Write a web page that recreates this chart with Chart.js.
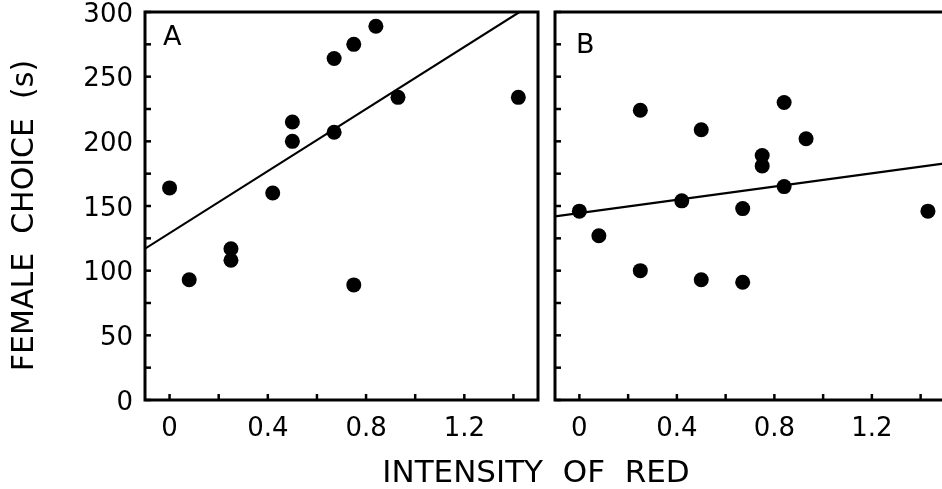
<!DOCTYPE html>
<html><head><meta charset="utf-8">
<script src="https://cdn.jsdelivr.net/npm/chart.js@4.4.1/dist/chart.umd.min.js"></script>
<style>
html,body{margin:0;padding:0;background:#fff;overflow:hidden;width:942px;height:489px;}
#wrap{position:relative;width:942px;height:489px;overflow:hidden;background:#fff;}
#cA{position:absolute;left:0;top:0;}
#cB{position:absolute;left:545px;top:0;}
#xtitle{position:absolute;left:536px;top:456px;transform:translateX(-50%);font-family:"DejaVu Sans",sans-serif;font-size:31px;line-height:31px;white-space:pre;color:#000;}
</style></head>
<body><div id="wrap">
<canvas id="cA" width="548" height="489"></canvas>
<canvas id="cB" width="410" height="489"></canvas>
<div id="xtitle">INTENSITY  OF  RED</div>
</div>
<script>
// ---- data ----
const xTickValues = [0, 0.2, 0.4, 0.6, 0.8, 1.0, 1.2, 1.4];
const xTickLabels = ['0', '', '0.4', '', '0.8', '', '1.2', ''];
const yTickValues = [0, 25, 50, 75, 100, 125, 150, 175, 200, 225, 250, 275, 300];
const yTickLabels = ['0', '', '50', '', '100', '', '150', '', '200', '', '250', '', '300'];

const intensityA = [0.00, 0.08, 0.25, 0.25, 0.42, 0.50, 0.50, 0.67, 0.67, 0.75, 0.84, 0.93, 1.42, 0.75];
const choiceA    = [164,  93,   117,  108,  160,  215,  200,  207,  264,  275,  289,  234,  234,  89];
const fitAx = [-0.1, 1.5];
const fitAy = [117, 309];

const intensityB = [0.00, 0.08, 0.25, 0.25, 0.42, 0.50, 0.50, 0.67, 0.67, 0.75, 0.75, 0.84, 0.84, 0.93, 1.43];
const choiceB    = [146,  127,  224,  100,  154,  209,  93,   148,  91,   189,  181,  230,  165,  202,  146];
const fitBx = [-0.1, 1.5];
const fitBy = [142, 183];

const yTitle = 'FEMALE  CHOICE  (s)  ';
const FONT = 'DejaVu Sans';

const framePlugin = {
  id: 'frame',
  afterDraw(chart, args, opts) {
    const {ctx, chartArea: a, scales} = chart;
    ctx.save();
    ctx.strokeStyle = '#000';
    ctx.lineWidth = 2.5;
    const xs = scales.x, ys = scales.y;
    xs.ticks.forEach(t => {
      const px = xs.getPixelForValue(t.value);
      ctx.beginPath(); ctx.moveTo(px, a.bottom); ctx.lineTo(px, a.bottom - 6); ctx.stroke();
    });
    ys.ticks.forEach(t => {
      const py = ys.getPixelForValue(t.value);
      ctx.beginPath(); ctx.moveTo(a.left, py); ctx.lineTo(a.left + 6, py); ctx.stroke();
    });
    ctx.lineWidth = 3;
    ctx.strokeRect(a.left, a.top, a.right - a.left, a.bottom - a.top);
    ctx.fillStyle = '#000';
    ctx.font = '27px "' + FONT + '"';
    ctx.textBaseline = 'alphabetic';
    ctx.textAlign = 'left';
    ctx.fillText(opts.label, a.left + opts.dx, a.top + opts.dy);
    ctx.restore();
  }
};

function makeChart(id, xs, ys, fx, fy, isA, label, dx, dy) {
  const pts = xs.map((v, i) => ({x: v, y: ys[i]}));
  const fit = fx.map((v, i) => ({x: v, y: fy[i]}));
  return new Chart(document.getElementById(id), {
    type: 'scatter',
    data: {
      datasets: [
        {data: pts, backgroundColor: '#000', borderWidth: 0, pointRadius: 7.5, pointHoverRadius: 7.5},
        {data: fit, showLine: true, borderColor: '#000', borderWidth: 2.2, pointRadius: 0, fill: false}
      ]
    },
    options: {
      responsive: false,
      devicePixelRatio: 1,
      animation: false,
      events: [],
      layout: {padding: {left: isA ? 0 : 10, top: 12, right: 10, bottom: 0}},
      plugins: {legend: {display: false}, tooltip: {enabled: false},
        frame: {label: label, dx: dx, dy: dy}},
      scales: {
        x: {
          type: 'linear', min: -0.1, max: 1.5,
          afterBuildTicks: s => { s.ticks = xTickValues.map(v => ({value: v})); },
          afterFit: s => { s.height = 89; s.paddingLeft = 0; s.paddingRight = 0; },
          grid: {display: false, drawTicks: false},
          border: {display: false},
          ticks: {autoSkip: false, maxRotation: 0, padding: 14, color: '#000',
            font: {family: FONT, size: 26},
            callback: (v, i) => xTickLabels[i]}
        },
        y: {
          type: 'linear', min: 0, max: 300,
          afterBuildTicks: s => { s.ticks = yTickValues.map(v => ({value: v})); },
          afterFit: s => { s.width = isA ? 145 : 0; s.paddingTop = 0; s.paddingBottom = 0; },
          grid: {display: false, drawTicks: false},
          border: {display: false},
          ticks: {display: isA, autoSkip: false, padding: 12, labelOffset: 3, color: '#000',
            font: {family: FONT, size: 26},
            callback: (v, i) => yTickLabels[i]},
          title: {display: isA, text: yTitle, color: '#000',
            font: {family: FONT, size: 30}, padding: {top: 7.5, bottom: 0}}
        }
      }
    },
    plugins: [framePlugin]
  });
}

makeChart('cA', intensityA, choiceA, fitAx, fitAy, true, 'A', 18, 33);
makeChart('cB', intensityB, choiceB, fitBx, fitBy, false, 'B', 21, 41);
</script>
</body></html>
